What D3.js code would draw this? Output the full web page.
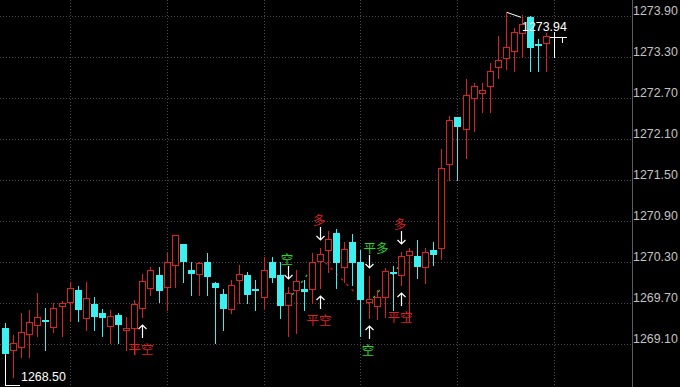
<!DOCTYPE html>
<html>
<head>
<meta charset="utf-8">
<script src="https://cdn.jsdelivr.net/npm/d3@7/dist/d3.min.js"></script>
<style>
  html, body { margin: 0; padding: 0; background: #000; overflow: hidden; }
  svg { display: block; }
</style>
</head>
<body>
<div id="main"></div>
<script>
'use strict';

var width = 680;
var height = 387;

// bar data, one entry per minute bar (left -> right)
var opens = [
  1269.33, 1269.01, 1269.06, 1269.24, 1269.38, 1269.45, 1269.35, 1269.65, 1269.72, 1269.89,
  1269.48, 1269.68, 1269.56, 1269.37, 1269.53, 1269.31, 1269.34, 1269.62, 1269.92, 1270.11,
  1269.94, 1270.26, 1270.56, 1270.18, 1270.12, 1270.30, 1270.00, 1269.83, 1269.61, 1270.04,
  1270.11, 1269.90, 1269.79, 1270.30, 1270.11, 1269.67, 1269.89, 1269.90, 1269.90, 1270.32,
  1270.47, 1270.72, 1270.23, 1270.59, 1270.30, 1269.72, 1269.66, 1269.79, 1270.16, 1270.11,
  1270.40, 1270.39, 1270.23, 1270.48, 1270.51, 1271.74, 1272.42, 1272.24, 1272.70, 1272.78,
  1272.88, 1273.16, 1273.28, 1273.39, 1273.65, 1273.89, 1273.49, 1273.50, 1273.60
];
var highs = [
  1269.40, 1269.23, 1269.55, 1269.60, 1269.85, 1269.62, 1269.70, 1269.73, 1270.01, 1269.95,
  1270.01, 1269.79, 1269.61, 1269.60, 1269.56, 1269.50, 1269.74, 1270.13, 1270.22, 1270.23,
  1270.43, 1270.70, 1270.56, 1270.30, 1270.30, 1270.43, 1270.01, 1269.90, 1270.04, 1270.26,
  1270.16, 1270.04, 1270.38, 1270.38, 1270.30, 1269.94, 1270.18, 1270.04, 1270.43, 1270.50,
  1270.76, 1270.79, 1270.60, 1270.71, 1270.48, 1270.10, 1269.89, 1270.21, 1270.24, 1270.45,
  1270.50, 1270.62, 1270.50, 1270.60, 1271.96, 1272.44, 1272.42, 1272.98, 1272.92, 1272.92,
  1273.21, 1273.61, 1273.94, 1273.72, 1273.91, 1273.90, 1273.57, 1273.65, 1273.67
];
var lows = [
  1268.50, 1268.62, 1268.91, 1268.91, 1269.21, 1269.01, 1269.28, 1269.21, 1269.43, 1269.43,
  1269.30, 1269.30, 1269.21, 1269.11, 1269.11, 1269.01, 1268.96, 1269.50, 1269.82, 1269.72,
  1269.60, 1269.94, 1270.01, 1269.82, 1269.82, 1269.82, 1269.11, 1269.30, 1269.55, 1269.70,
  1269.70, 1269.60, 1269.62, 1270.01, 1269.48, 1269.21, 1269.26, 1269.60, 1269.70, 1269.92,
  1270.16, 1269.92, 1270.01, 1269.96, 1269.21, 1269.48, 1269.46, 1269.50, 1269.60, 1269.97,
  1269.43, 1270.06, 1269.99, 1270.26, 1270.35, 1271.50, 1271.50, 1271.82, 1272.21, 1272.50,
  1272.50, 1273.00, 1273.13, 1273.10, 1273.30, 1273.10, 1273.10, 1273.10, 1273.30
];
var closes = [
  1268.96, 1269.11, 1269.27, 1269.42, 1269.50, 1269.42, 1269.62, 1269.70, 1269.92, 1269.60,
  1269.78, 1269.49, 1269.48, 1269.51, 1269.38, 1269.33, 1269.68, 1270.02, 1270.19, 1269.88,
  1270.30, 1270.70, 1270.30, 1270.12, 1270.28, 1270.08, 1269.92, 1269.61, 1269.96, 1270.12,
  1269.81, 1269.88, 1270.19, 1270.06, 1269.66, 1269.84, 1270.02, 1269.86, 1270.30, 1270.41,
  1270.63, 1270.29, 1270.49, 1270.29, 1269.75, 1269.76, 1269.79, 1270.17, 1270.14, 1270.39,
  1270.46, 1270.22, 1270.44, 1270.40, 1271.67, 1272.38, 1272.28, 1272.75, 1272.88, 1272.81,
  1273.10, 1273.25, 1273.44, 1273.66, 1273.79, 1273.43, 1273.47, 1273.61, 1273.60
];

var priceTicks = [1269.10, 1269.70, 1270.30, 1270.90, 1271.50, 1272.10, 1272.70, 1273.30, 1273.90];
var gridBars = [8, 20, 32, 44, 56, 68];

// trade signals
var signalBars = [17, 35, 39, 39, 45, 45, 49, 49];
var signalText = ['平空', '空', '多', '平空', '平多', '空', '多', '平空'];
var signalSide = ['below', 'above', 'above', 'below', 'above', 'below', 'above', 'below'];

// dotted position lines between signals
var tradeFrom = [35, 39, 45];
var tradeTo = [39, 44, 49];
var tradeOpenPx = [1269.73, 1270.37, 1269.69];
var tradeClosePx = [1270.37, 1269.77, 1270.27];
var tradeDir = ['short', 'long', 'short'];

var RED = '#d92222';
var CYAN = '#3cf0f0';
var GREEN = '#2ad82a';
var textColor = { '多': RED, '平空': RED, '空': GREEN, '平多': GREEN };

var n = closes.length;
var fmt = d3.format('.2f');

var x = d3.scaleLinear().domain([0, 68]).range([5, 554.4]);
var y = d3.scaleLinear().domain([1268.50, 1273.90]).range([385, 16]);

function px(i) { return Math.round(x(i)); }
function py(v) { return Math.round(y(v)); }

var svg = d3.select('#main').append('svg')
  .attr('width', width)
  .attr('height', height)
  .style('background', '#000');

// grid
var grid = svg.append('g').attr('shape-rendering', 'crispEdges');
grid.selectAll('.hgrid').data(priceTicks).enter()
  .append('line')
  .attr('x1', 0).attr('x2', 632)
  .attr('y1', function(d) { return py(d) + 0.5; })
  .attr('y2', function(d) { return py(d) + 0.5; })
  .attr('stroke', '#4a4a4a')
  .attr('stroke-dasharray', '1,2');
grid.selectAll('.vgrid').data(gridBars).enter()
  .append('line')
  .attr('x1', function(d) { return px(d) + 0.5; })
  .attr('x2', function(d) { return px(d) + 0.5; })
  .attr('y1', 0).attr('y2', height)
  .attr('stroke', '#4a4a4a')
  .attr('stroke-dasharray', '1,2');

// price axis on the right
svg.append('line')
  .attr('x1', 632.5).attr('x2', 632.5)
  .attr('y1', 0).attr('y2', height)
  .attr('stroke', '#5c5c5c');

var axisG = svg.append('g')
  .attr('transform', 'translate(632,0)')
  .call(d3.axisRight(y).tickValues(priceTicks).tickSize(0).tickPadding(1).tickFormat(fmt));
axisG.select('.domain').remove();
axisG.selectAll('text')
  .attr('dy', '-0.14em')
  .attr('fill', '#c4c4c4')
  .style('font-family', '"Liberation Sans", Arial, sans-serif')
  .style('font-size', '12.4px');

// dotted lines joining signals
var tradeIdx = d3.range(tradeFrom.length);
svg.append('g').selectAll('line').data(tradeIdx).enter()
  .append('line')
  .attr('x1', function(k) { return x(tradeFrom[k]); })
  .attr('y1', function(k) { return y(tradeOpenPx[k]); })
  .attr('x2', function(k) { return x(tradeTo[k]); })
  .attr('y2', function(k) { return y(tradeClosePx[k]); })
  .attr('stroke', function(k) { return tradeDir[k] === 'long' ? RED : GREEN; })
  .attr('stroke-width', 1.2)
  .attr('stroke-dasharray', '2.5,5');

// candles
var idx = d3.range(n);
var bars = svg.append('g').attr('shape-rendering', 'crispEdges')
  .selectAll('g').data(idx).enter().append('g');

function barColor(i) {
  if (i === n - 1) return '#ffffff';   // live bar
  return closes[i] >= opens[i] ? RED : CYAN;
}

bars.append('line')
  .attr('x1', function(i) { return px(i) + 0.5; })
  .attr('x2', function(i) { return px(i) + 0.5; })
  .attr('y1', function(i) { return py(highs[i]); })
  .attr('y2', function(i) { return py(lows[i]) + 1; })
  .attr('stroke', barColor);

bars.filter(function(i) { return i < n - 1; })
  .append('rect')
  .attr('x', function(i) { return closes[i] >= opens[i] ? px(i) - 2.5 : px(i) - 3; })
  .attr('y', function(i) {
    var t = py(Math.max(opens[i], closes[i]));
    return closes[i] >= opens[i] ? t + 0.5 : t;
  })
  .attr('width', function(i) { return closes[i] >= opens[i] ? 6 : 7; })
  .attr('height', function(i) {
    var h = py(Math.min(opens[i], closes[i])) - py(Math.max(opens[i], closes[i]));
    return closes[i] >= opens[i] ? Math.max(h, 1) : Math.max(h, 2);
  })
  .attr('fill', function(i) { return closes[i] >= opens[i] ? '#000' : CYAN; })
  .attr('stroke', function(i) { return closes[i] >= opens[i] ? RED : 'none'; });

// live bar: cross plus small marker
var last = n - 1;
svg.append('path')
  .attr('d', 'M' + (px(last) - 4) + ',' + (py(closes[last]) + 0.5) + 'H' + (px(last) + 6) +
    'M' + (px(last) + 4) + ',' + (py(closes[last]) + 0.5) + 'H' + (px(last) + 13) +
    'M' + (px(last) + 8.5) + ',' + py(closes[last]) + 'V' + (py(closes[last]) + 6))
  .attr('stroke', '#fff')
  .attr('fill', 'none')
  .attr('shape-rendering', 'crispEdges');

// signals: arrow + label
var sigIdx = d3.range(signalBars.length);
var sig = svg.append('g').selectAll('g').data(sigIdx).enter().append('g');

sig.append('path')
  .attr('d', function(k) {
    var b = signalBars[k];
    var cx = px(b) + 0.5;
    if (signalSide[k] === 'above') {
      var tip = py(highs[b]) - 8;
      return 'M' + cx + ',' + (tip - 13) + 'V' + tip +
        'M' + (cx - 4) + ',' + (tip - 4) + 'L' + cx + ',' + tip + 'L' + (cx + 4) + ',' + (tip - 4);
    }
    var tip2 = py(lows[b]) + 8;
    return 'M' + cx + ',' + (tip2 + 13) + 'V' + tip2 +
      'M' + (cx - 4) + ',' + (tip2 + 4) + 'L' + cx + ',' + tip2 + 'L' + (cx + 4) + ',' + (tip2 + 4);
  })
  .attr('stroke', '#fff')
  .attr('stroke-width', 1.2)
  .attr('fill', 'none');

sig.append('text')
  .attr('x', function(k) {
    var cx = px(signalBars[k]);
    return signalText[k] === '平多' ? cx + 7 : cx - 1;
  })
  .attr('y', function(k) {
    var b = signalBars[k];
    return signalSide[k] === 'above' ? py(highs[b]) - 29 : py(lows[b]) + 31;
  })
  .attr('text-anchor', 'middle')
  .attr('dominant-baseline', 'central')
  .attr('fill', function(k) { return textColor[signalText[k]]; })
  .style('font-family', '"Noto Sans CJK SC", sans-serif')
  .style('font-size', '12.5px')
  .text(function(k) { return signalText[k]; });

// high / low markers
var hiIdx = d3.maxIndex(highs);
var loIdx = d3.minIndex(lows);
var markFont = '"Liberation Sans", Arial, sans-serif';

svg.append('line')
  .attr('x1', px(hiIdx) + 0.5).attr('y1', y(highs[hiIdx]) - 1)
  .attr('x2', px(hiIdx) + 15).attr('y2', y(highs[hiIdx]) + 4)
  .attr('stroke', '#fff');
svg.append('text')
  .attr('x', px(hiIdx) + 16)
  .attr('y', y(highs[hiIdx]) + 18)
  .attr('fill', '#fff')
  .style('font-family', markFont)
  .style('font-size', '12.4px')
  .text(fmt(highs[hiIdx]));

svg.append('path')
  .attr('d', 'M' + (px(loIdx) + 0.5) + ',' + (py(lows[loIdx]) - 30) + 'V' + (py(lows[loIdx]) + 0.5) +
    'H' + (px(loIdx) + 15))
  .attr('stroke', '#fff')
  .attr('fill', 'none')
  .attr('shape-rendering', 'crispEdges');
svg.append('text')
  .attr('x', px(loIdx) + 16)
  .attr('y', y(lows[loIdx]) - 4)
  .attr('fill', '#fff')
  .style('font-family', markFont)
  .style('font-size', '12.4px')
  .text(fmt(lows[loIdx]));
</script>
</body>
</html>
